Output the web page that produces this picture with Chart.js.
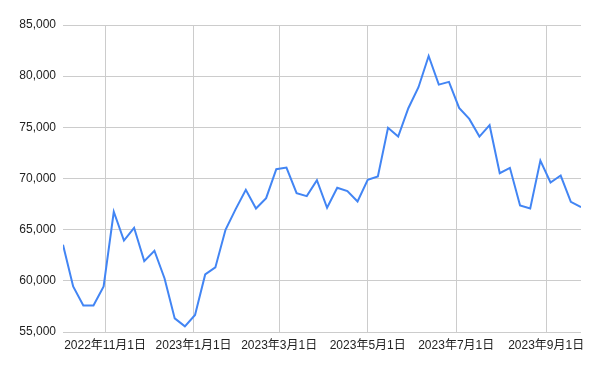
<!DOCTYPE html>
<html>
<head>
<meta charset="utf-8">
<script src="https://cdn.jsdelivr.net/npm/chart.js@4/dist/chart.umd.min.js"></script>
<style>
  html, body { margin: 0; padding: 0; background: #fff; }
  #wrap { width: 600px; height: 371px; }
</style>
</head>
<body>
<div id="wrap"><canvas id="chart" width="600" height="371"></canvas></div>
<script>
// weekly dates (Mondays)
const dates = [
  '2022-10-03', '2022-10-10', '2022-10-17', '2022-10-24', '2022-10-31',
  '2022-11-07', '2022-11-14', '2022-11-21', '2022-11-28',
  '2022-12-05', '2022-12-12', '2022-12-19', '2022-12-26',
  '2023-01-02', '2023-01-09', '2023-01-16', '2023-01-23', '2023-01-30',
  '2023-02-06', '2023-02-13', '2023-02-20', '2023-02-27',
  '2023-03-06', '2023-03-13', '2023-03-20', '2023-03-27',
  '2023-04-03', '2023-04-10', '2023-04-17', '2023-04-24',
  '2023-05-01', '2023-05-08', '2023-05-15', '2023-05-22', '2023-05-29',
  '2023-06-05', '2023-06-12', '2023-06-19', '2023-06-26',
  '2023-07-03', '2023-07-10', '2023-07-17', '2023-07-24', '2023-07-31',
  '2023-08-07', '2023-08-14', '2023-08-21', '2023-08-28',
  '2023-09-04', '2023-09-11', '2023-09-18', '2023-09-25'
];

const values = [
  63520, 59450, 57600, 57600, 59450,
  66750, 63940, 65180, 61930,
  62940, 60230, 56330, 55550,
  56660, 60630, 61310, 64990, 67010,
  68890, 67070, 68080, 70910,
  71070, 68570, 68280, 69840,
  67140, 69090, 68770, 67750,
  69870, 70190, 74950, 74100, 76870,
  78920, 81970, 79170, 79440,
  76900, 75820, 74100, 75210, 70520,
  71040, 67360, 67070, 71750,
  69610, 70290, 67720, 67200
];

// x-axis tick dates
const tickDates = ['2022-11-01', '2023-01-01', '2023-03-01', '2023-05-01', '2023-07-01', '2023-09-01'];

const yTicks = { min: 55000, max: 85000, step: 5000 };

function toTime(s) {
  const p = s.split('-').map(Number);
  return Date.UTC(p[0], p[1] - 1, p[2]);
}

const points = dates.map((d, i) => ({ x: toTime(d), y: values[i] }));
const fontFamily = '"Liberation Sans", Arial, "Noto Sans CJK JP", sans-serif';

new Chart(document.getElementById('chart'), {
  type: 'line',
  data: {
    datasets: [{
      data: points,
      borderColor: '#4285f4',
      borderWidth: 2,
      pointRadius: 0,
      tension: 0,
      fill: false
    }]
  },
  options: {
    responsive: false,
    animation: false,
    layout: { padding: { top: 25, right: 19, left: 0, bottom: 0 } },
    plugins: { legend: { display: false }, tooltip: { enabled: false } },
    scales: {
      x: {
        type: 'linear',
        min: toTime(dates[0]),
        max: toTime(dates[dates.length - 1]),
        afterBuildTicks: (scale) => {
          scale.ticks = tickDates.map(d => ({ value: toTime(d) }));
        },
        afterFit: (scale) => { scale.height = 39; },
        grid: { color: '#cccccc', drawTicks: false, lineWidth: 1 },
        border: { display: false },
        ticks: {
          autoSkip: false,
          maxRotation: 0,
          padding: 6,
          color: '#222222',
          font: { family: fontFamily, size: 12 },
          callback: (v) => {
            const d = new Date(v);
            return d.getUTCFullYear() + '年' + (d.getUTCMonth() + 1) + '月' + d.getUTCDate() + '日';
          }
        }
      },
      y: {
        min: yTicks.min,
        max: yTicks.max,
        afterFit: (scale) => { scale.width = 63; },
        grid: { color: '#cccccc', drawTicks: false, lineWidth: 1 },
        border: { display: false },
        ticks: {
          stepSize: yTicks.step,
          padding: 7,
          color: '#222222',
          font: { family: fontFamily, size: 12 },
          callback: (v) => v.toLocaleString('en-US')
        }
      }
    }
  }
});
</script>
</body>
</html>
